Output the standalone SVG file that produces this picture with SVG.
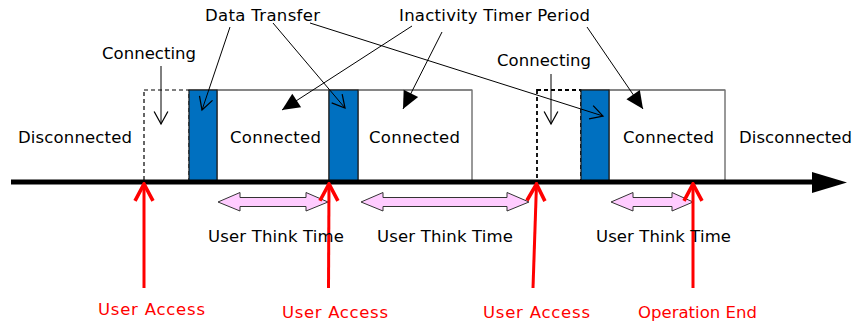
<svg xmlns="http://www.w3.org/2000/svg" width="854" height="323" viewBox="0 0 854 323">
<defs>
<style>
text{font-family:"DejaVu Sans","Liberation Sans",sans-serif;font-size:16.5px;fill:#000}
.red{fill:#FF0000}
.conn{fill:#fff;stroke:#333;stroke-width:1}
.dash{fill:#fff;stroke:#000;stroke-width:1.2;stroke-dasharray:4,3}
.bar{fill:#0070C0;stroke:#1a1a1a;stroke-width:1.2}
.top{stroke:#808080;stroke-width:1.5}
.call{stroke:#000;stroke-width:1;fill:none}
.ua{stroke:#FF0000;stroke-width:3;fill:none}
.pink{fill:#FFCCFF;stroke:#333;stroke-width:1}
</style>
<marker id="open" markerUnits="userSpaceOnUse" markerWidth="20" markerHeight="20" viewBox="-12 -8 14 16" refX="0" refY="0" orient="auto">
<path d="M-10,-5.5 L0,0 L-10,5.5" fill="none" stroke="#000" stroke-width="1"/>
</marker>
<marker id="solid" markerUnits="userSpaceOnUse" markerWidth="20" markerHeight="20" viewBox="-15 -8 16 16" refX="0" refY="0" orient="auto">
<path d="M0,0 L-14,-6.5 L-14,6.5 z" fill="#000"/>
</marker>
<marker id="redopen" markerUnits="userSpaceOnUse" markerWidth="24" markerHeight="24" viewBox="-18 -10 20 20" refX="0" refY="0" orient="auto">
<path d="M-14,-7.5 L0,0 L-14,7.5" fill="none" stroke="#FF0000" stroke-width="3"/>
</marker>
</defs>

<g id="states">
<g id="connecting1"><rect class="dash" x="144" y="90" width="45" height="91"/></g>
<g id="connected1"><rect class="conn" x="217" y="90" width="112" height="91"/></g>
<g id="connected2"><rect class="conn" x="358" y="90" width="114" height="91"/></g>
<g id="connecting2"><rect class="dash" x="537" y="90" width="44" height="91" style="stroke-width:1.8"/></g>
<g id="connected3"><rect class="conn" x="609" y="90" width="116" height="91"/></g>
<line class="top" x1="189" y1="90" x2="472" y2="90"/>
<line class="top" x1="581" y1="90" x2="725" y2="90"/>
<g id="transfer1"><rect class="bar" x="189" y="90" width="28" height="91"/></g>
<g id="transfer2"><rect class="bar" x="329" y="90" width="29" height="91"/></g>
<g id="transfer3"><rect class="bar" x="581" y="90" width="28" height="91"/></g>
</g>

<g id="timeline">
<line x1="11" y1="182" x2="813" y2="182" stroke="#000" stroke-width="5"/>
<path d="M812,172 L847,182.5 L812,193 z" fill="#000"/>
</g>

<g id="think-times">
<path class="pink" d="M218,202 L240,192.5 L240,197.5 L306,197.5 L306,192.5 L328,202 L306,211 L306,206.5 L240,206.5 L240,211 z"/>
<path class="pink" d="M361,202 L383,192.5 L383,197.5 L507,197.5 L507,192.5 L529,202 L507,211 L507,206.5 L383,206.5 L383,211 z"/>
<path class="pink" d="M611,202 L633,192.5 L633,197.5 L672,197.5 L672,192.5 L693,202 L672,211 L672,206.5 L633,206.5 L633,211 z"/>
</g>

<g id="connectors">
<line class="call" x1="161" y1="66" x2="161" y2="124" marker-end="url(#open)"/>
<line class="call" x1="551" y1="74" x2="551" y2="124" marker-end="url(#open)"/>
<line class="call" x1="230" y1="27" x2="202" y2="110" marker-end="url(#open)"/>
<line class="call" x1="273" y1="23" x2="345" y2="108" marker-end="url(#open)"/>
<line class="call" x1="310" y1="23" x2="603" y2="116" marker-end="url(#open)"/>
<line class="call" x1="412" y1="26" x2="282" y2="110" marker-end="url(#solid)"/>
<line class="call" x1="442" y1="32" x2="403" y2="109" marker-end="url(#solid)"/>
<line class="call" x1="587" y1="27" x2="643" y2="109" marker-end="url(#solid)"/>
<line class="ua" x1="144" y1="288" x2="144" y2="184" marker-end="url(#redopen)"/>
<line class="ua" x1="328.5" y1="288" x2="329" y2="184" marker-end="url(#redopen)"/>
<line class="ua" x1="533" y1="288" x2="536.5" y2="184" marker-end="url(#redopen)"/>
<line class="ua" x1="693" y1="288" x2="693" y2="184" marker-end="url(#redopen)"/>
</g>

<g id="labels">
<text x="205" y="21" textLength="115">Data Transfer</text>
<text x="399" y="21" textLength="191">Inactivity Timer Period</text>
<text x="102" y="59" textLength="94">Connecting</text>
<text x="497" y="66" textLength="94">Connecting</text>
<text x="18" y="143" textLength="114">Disconnected</text>
<text x="230" y="143" textLength="91">Connected</text>
<text x="369" y="143" textLength="91">Connected</text>
<text x="623" y="143" textLength="91">Connected</text>
<text x="739" y="143" textLength="113">Disconnected</text>
<text x="208" y="242" textLength="136">User Think Time</text>
<text x="377" y="242" textLength="136">User Think Time</text>
<text x="596" y="242" textLength="135">User Think Time</text>
<text class="red" x="98" y="315" textLength="107">User Access</text>
<text class="red" x="282" y="318" textLength="106">User Access</text>
<text class="red" x="483" y="318" textLength="107">User Access</text>
<text class="red" x="638" y="318" textLength="119">Operation End</text>
</g>
</svg>
